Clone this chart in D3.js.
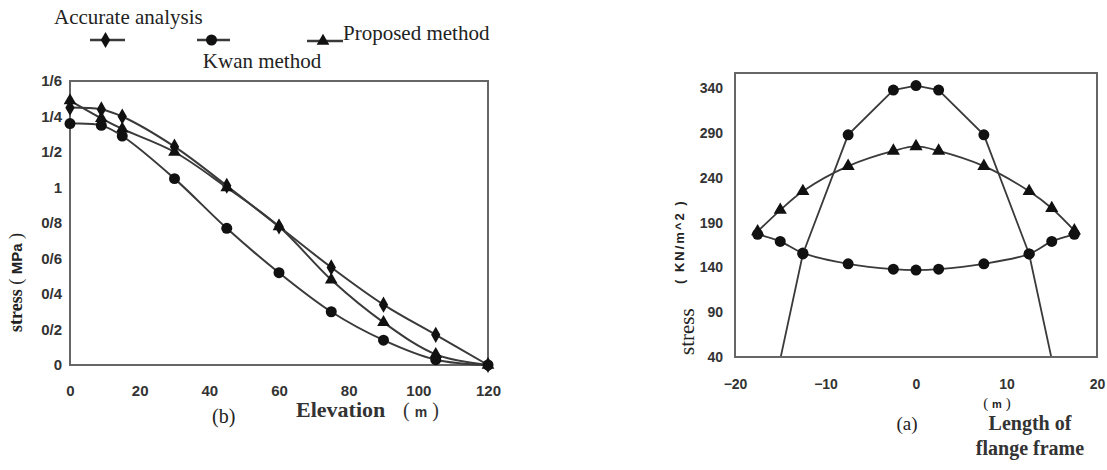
<!DOCTYPE html>
<html>
<head>
<meta charset="utf-8">
<script src="https://cdn.jsdelivr.net/npm/d3@7"></script>
<style>
  body { margin: 0; background: #fff; }
  svg { display: block; }
  .tick text { font-family: "Liberation Sans Narrow", "Liberation Sans", sans-serif; font-weight: bold; fill: #333; }
</style>
</head>
<body>
<div class="canvas"></div>
<script>
// left chart (b): stress vs elevation
const elevation = [0, 9, 15, 30, 45, 60, 75, 90, 105, 120]
const accurate = [1.45, 1.44, 1.40, 1.23, 1.01, 0.78, 0.55, 0.34, 0.17, 0]
const proposed = [1.49, 1.39, 1.33, 1.20, 1.00, 0.78, 0.48, 0.24, 0.06, 0]
const kwan = [1.36, 1.35, 1.29, 1.05, 0.77, 0.52, 0.30, 0.14, 0.03, 0]
const bTicksY = [0, 0.2, 0.4, 0.6, 0.8, 1, 1.2, 1.4, 1.6]
const bTicksX = [0, 20, 40, 60, 80, 100, 120]

// right chart (a): stress vs length of flange frame
const flangeX = [-17.5, -15, -12.5, -7.5, -2.5, 0, 2.5, 7.5, 12.5, 15, 17.5]
const upperArch = [180, 204, 225, 253, 270, 275, 270, 253, 225, 206, 181]
const lowerArch = [177, 169, 156, 144, 138, 137, 138, 144, 155, 169, 177]
const steepX = [-17.5, -12.5, -7.5, -2.5, 0, 2.5, 7.5, 12.5, 17.5]
const steep = [-80, 155, 288, 338, 343, 338, 288, 155, -80]
const aTicksY = [40, 90, 140, 190, 240, 290, 340]
const aTicksX = [-20, -10, 0, 10, 20]

const W = 1107, H = 470
const svg = d3.select('.canvas').append('svg')
    .attr('width', W)
    .attr('height', H)

const lineCol = '#3a3a3a'
const serif = '"Liberation Serif", "DejaVu Serif", serif'
const sans = '"Liberation Sans", sans-serif'

// ---------- chart (b) ----------
const bx = d3.scaleLinear().domain([0, 120]).range([70, 488])
const by = d3.scaleLinear().domain([0, 1.6]).range([365, 81])

const gB = svg.append('g')

gB.append('g')
    .attr('transform', `translate(0, ${by(0)})`)
    .call(d3.axisBottom(bx).tickValues(bTicksX).tickSize(0).tickPadding(20))
    .call(g => g.select('.domain').remove())
    .selectAll('text').attr('font-size', 15)

gB.append('g')
    .attr('transform', `translate(${bx(0)}, 0)`)
    .call(d3.axisLeft(by).tickValues(bTicksY).tickSize(0).tickPadding(8)
        .tickFormat(d => String(+d.toFixed(1)).replace('.', '/')))
    .call(g => g.select('.domain').remove())
    .selectAll('text').attr('font-size', 15)

gB.append('rect')
    .attr('x', bx(0)).attr('y', by(1.6))
    .attr('width', bx(120) - bx(0)).attr('height', by(0) - by(1.6))
    .attr('fill', 'none').attr('stroke', '#666').attr('stroke-width', 2)

const bSeries = [
    { name: 'Accurate analysis', vals: accurate, sym: d3.symbolDiamond, size: 75 },
    { name: 'Proposed method', vals: proposed, sym: d3.symbolTriangle, size: 70 },
    { name: 'Kwan method', vals: kwan, sym: d3.symbolCircle, size: 95 }
]

const bLine = d3.line()
    .x(d => bx(d[0]))
    .y(d => by(d[1]))
    .curve(d3.curveCatmullRom.alpha(0.5))

bSeries.forEach(s => {
    const pts = elevation.map((e, i) => [e, s.vals[i]])
    gB.append('path')
        .attr('d', bLine(pts))
        .attr('fill', 'none')
        .attr('stroke', lineCol)
        .attr('stroke-width', 2)
    gB.selectAll(null)
        .data(pts)
        .enter()
        .append('path')
            .attr('transform', d => `translate(${bx(d[0])}, ${by(d[1])})`)
            .attr('d', d3.symbol().type(s.sym).size(s.size))
            .attr('fill', '#111')
})

// axis titles (b)
const yTitleB = svg.append('text')
    .attr('transform', 'translate(22, 332) rotate(-90)')
    .attr('font-family', serif)
    .attr('font-weight', 'bold')
    .attr('font-size', 18)
    .attr('fill', '#222')
yTitleB.append('tspan').text('stress')
yTitleB.append('tspan').text('  ( ').attr('font-weight', 'normal')
yTitleB.append('tspan').text('MPa').attr('font-family', sans).attr('font-size', 15)
yTitleB.append('tspan').text(' )').attr('font-weight', 'normal')

svg.append('text')
    .attr('x', 296).attr('y', 417)
    .attr('font-family', serif).attr('font-weight', 'bold').attr('font-size', 22)
    .attr('fill', '#333')
    .text('Elevation')
const elevUnit = svg.append('text')
    .attr('x', 403).attr('y', 417)
    .attr('font-family', serif).attr('font-size', 20).attr('fill', '#333')
elevUnit.append('tspan').text('( ')
elevUnit.append('tspan').attr('font-weight', 'bold').attr('font-family', sans).attr('font-size', 14).text('m')
elevUnit.append('tspan').text(' )')

svg.append('text')
    .attr('x', 212).attr('y', 423)
    .attr('font-family', serif).attr('font-size', 20).attr('fill', '#222')
    .text('(b)')

// legend
const legend = [
    { sym: d3.symbolDiamond, size: 75, x1: 90, x2: 125, y: 40, text: 'Accurate analysis', tx: 54, ty: 24, anchor: 'start' },
    { sym: d3.symbolCircle, size: 95, x1: 197, x2: 230, y: 40, text: 'Kwan method', tx: 262, ty: 68, anchor: 'middle' },
    { sym: d3.symbolTriangle, size: 70, x1: 307, x2: 343, y: 41, text: 'Proposed method', tx: 343, ty: 40, anchor: 'start' }
]
legend.forEach(l => {
    svg.append('line')
        .attr('x1', l.x1).attr('x2', l.x2).attr('y1', l.y).attr('y2', l.y)
        .attr('stroke', lineCol).attr('stroke-width', 2.5)
    svg.append('path')
        .attr('transform', `translate(${(l.x1 + l.x2) / 2 - 2}, ${l.y})`)
        .attr('d', d3.symbol().type(l.sym).size(l.size))
        .attr('fill', '#111')
    svg.append('text')
        .attr('x', l.tx).attr('y', l.ty)
        .attr('text-anchor', l.anchor)
        .attr('font-family', serif).attr('font-size', 21).attr('fill', '#222')
        .text(l.text)
})

// ---------- chart (a) ----------
const ax = d3.scaleLinear().domain([-20, 20]).range([735, 1097])
const ay = d3.scaleLinear().domain([40, 357]).range([357, 73])

const gA = svg.append('g')

svg.append('defs').append('clipPath').attr('id', 'clipA')
    .append('rect')
    .attr('x', ax(-20)).attr('y', ay(357))
    .attr('width', ax(20) - ax(-20)).attr('height', ay(40) - ay(357))

gA.append('g')
    .attr('transform', `translate(0, ${ay(40)})`)
    .call(d3.axisBottom(ax).tickValues(aTicksX).tickSize(0).tickPadding(22))
    .call(g => g.select('.domain').remove())
    .selectAll('text').attr('font-size', 14)

gA.append('g')
    .attr('transform', `translate(${ax(-20)}, 0)`)
    .call(d3.axisLeft(ay).tickValues(aTicksY).tickSize(0).tickPadding(12))
    .call(g => g.select('.domain').remove())
    .selectAll('text').attr('font-size', 14)

const aLineSmooth = d3.line()
    .x(d => ax(d[0]))
    .y(d => ay(d[1]))
    .curve(d3.curveCatmullRom.alpha(0.5))
const aLineStraight = d3.line()
    .x(d => ax(d[0]))
    .y(d => ay(d[1]))

const aSeries = [
    { xs: flangeX, vals: upperArch, sym: d3.symbolTriangle, size: 75 },
    { xs: flangeX, vals: lowerArch, sym: d3.symbolCircle, size: 95 },
    { xs: steepX, vals: steep, sym: d3.symbolCircle, size: 95, straight: true }
]

const plotA = gA.append('g').attr('clip-path', 'url(#clipA)')
aSeries.forEach(s => {
    const pts = s.xs.map((x, i) => [x, s.vals[i]])
    plotA.append('path')
        .attr('d', (s.straight ? aLineStraight : aLineSmooth)(pts))
        .attr('fill', 'none')
        .attr('stroke', lineCol)
        .attr('stroke-width', 1.8)
    plotA.selectAll(null)
        .data(pts)
        .enter()
        .append('path')
            .attr('transform', d => `translate(${ax(d[0])}, ${ay(d[1])})`)
            .attr('d', d3.symbol().type(s.sym).size(s.size))
            .attr('fill', '#111')
})

gA.append('rect')
    .attr('x', ax(-20)).attr('y', ay(357))
    .attr('width', ax(20) - ax(-20)).attr('height', ay(40) - ay(357))
    .attr('fill', 'none').attr('stroke', '#666').attr('stroke-width', 2)

// axis titles (a)
svg.append('text')
    .attr('transform', 'translate(694, 355) rotate(-90)')
    .attr('font-family', serif)
    .attr('font-size', 21)
    .attr('fill', '#222')
    .text('stress')
svg.append('text')
    .attr('transform', 'translate(684, 284) rotate(-90)')
    .attr('font-family', sans)
    .attr('font-weight', 'bold')
    .attr('font-size', 13)
    .attr('letter-spacing', 2)
    .attr('fill', '#222')
    .text('( KN/m^2 )')

const aUnit = svg.append('text')
    .attr('x', 997).attr('y', 408)
    .attr('text-anchor', 'middle')
    .attr('font-family', serif).attr('font-size', 15).attr('fill', '#222')
aUnit.append('tspan').text('( ')
aUnit.append('tspan').attr('font-weight', 'bold').attr('font-family', sans).attr('font-size', 11).text('m')
aUnit.append('tspan').text(' )')

svg.append('text')
    .attr('x', 907).attr('y', 430)
    .attr('text-anchor', 'middle')
    .attr('font-family', serif).attr('font-size', 19).attr('fill', '#222')
    .text('(a)')
svg.append('text')
    .attr('x', 1030).attr('y', 430)
    .attr('text-anchor', 'middle')
    .attr('font-family', serif).attr('font-weight', 'bold').attr('font-size', 20).attr('fill', '#333')
    .text('Length of')
svg.append('text')
    .attr('x', 1030).attr('y', 455)
    .attr('text-anchor', 'middle')
    .attr('font-family', serif).attr('font-weight', 'bold').attr('font-size', 20).attr('fill', '#333')
    .text('flange frame')
</script>
</body>
</html>
